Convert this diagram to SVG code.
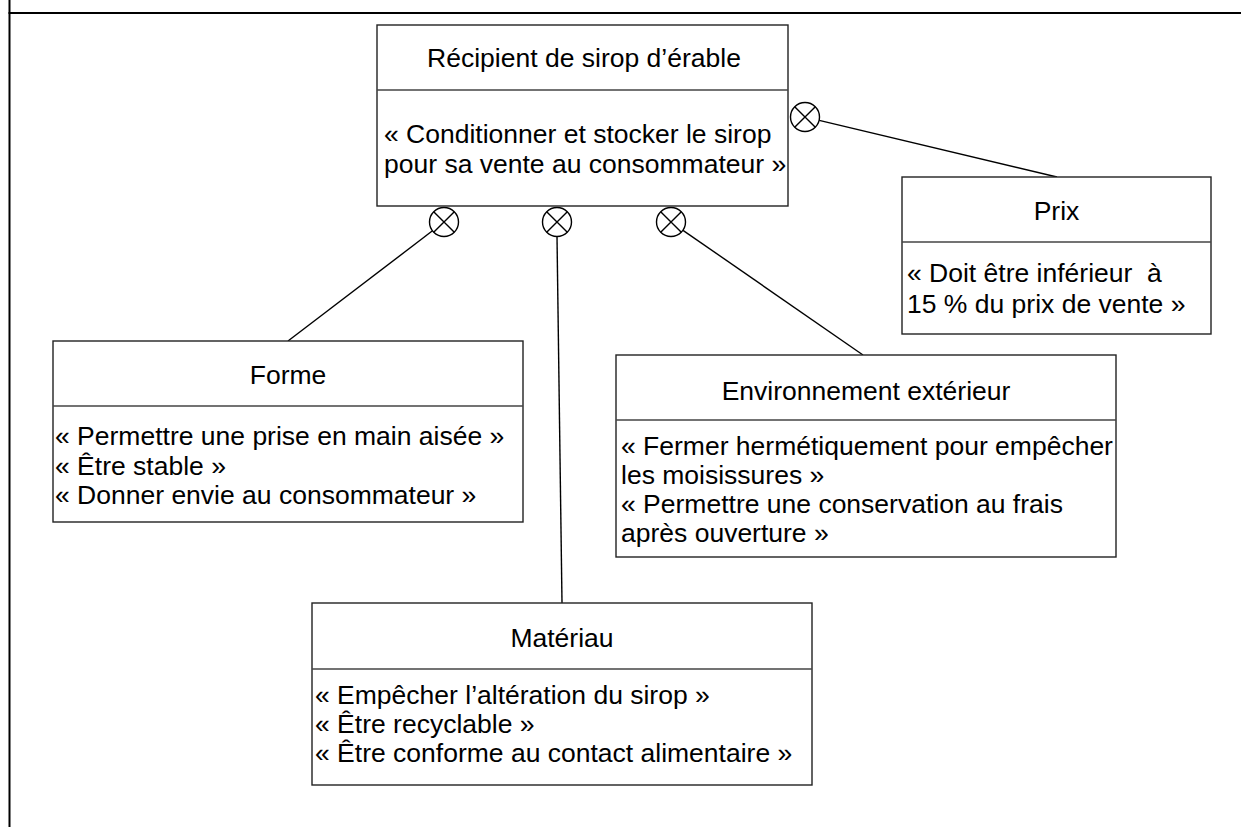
<svg xmlns="http://www.w3.org/2000/svg" width="1241" height="827" viewBox="0 0 1241 827">
<style>
.box{fill:#fff;stroke:#222;stroke-width:1.4}
.div{stroke:#444;stroke-width:1.4}
.t{font-family:"Liberation Sans",Arial,sans-serif;font-size:26.5px;fill:#000}
.c{text-anchor:middle}
.con{stroke:#000;stroke-width:1.4;fill:none}
.frame{stroke:#000;stroke-width:2;fill:none}
</style>
<rect width="1241" height="827" fill="#fff"/>
<g id="frame">
<line class="frame" x1="9.5" y1="0" x2="9.5" y2="827"/>
<line class="frame" x1="8.5" y1="13" x2="1241" y2="13"/>
</g>
<g id="connectors">
<circle class="con" cx="444" cy="222" r="14.5"/>
<path class="con" d="M433.7 211.7L454.3 232.3M454.3 211.7L433.7 232.3"/>
<line class="con" x1="432.5" y1="230.8" x2="288" y2="341"/>
<circle class="con" cx="557" cy="222" r="14.5"/>
<path class="con" d="M546.7 211.7L567.3 232.3M567.3 211.7L546.7 232.3"/>
<line class="con" x1="557" y1="236.5" x2="562" y2="603"/>
<circle class="con" cx="671" cy="222" r="14.5"/>
<path class="con" d="M660.7 211.7L681.3 232.3M681.3 211.7L660.7 232.3"/>
<line class="con" x1="683" y1="230.3" x2="863" y2="355"/>
<circle class="con" cx="805" cy="117" r="14.5"/>
<path class="con" d="M794.7 106.7L815.3 127.3M815.3 106.7L794.7 127.3"/>
<line class="con" x1="819.2" y1="120.4" x2="1057" y2="177"/>
</g>
<g id="recipient">
<rect class="box" x="377" y="25" width="411" height="181"/>
<line class="div" x1="377" y1="90" x2="788" y2="90"/>
<text class="t c" x="584" y="67">Récipient de sirop d’érable</text>
<text class="t" x="384" y="143">« Conditionner et stocker le sirop</text>
<text class="t" x="384" y="173">pour sa vente au consommateur »</text>
</g>
<g id="prix">
<rect class="box" x="902" y="177" width="309" height="157"/>
<line class="div" x1="902" y1="242" x2="1211" y2="242"/>
<text class="t c" x="1056.5" y="220">Prix</text>
<text class="t" x="907" y="282" xml:space="preserve">« Doit être inférieur  à</text>
<text class="t" x="907" y="313">15 % du prix de vente »</text>
</g>
<g id="forme">
<rect class="box" x="53" y="341" width="470" height="181"/>
<line class="div" x1="53" y1="406" x2="523" y2="406"/>
<text class="t c" x="288" y="384">Forme</text>
<text class="t" x="55" y="445">« Permettre une prise en main aisée »</text>
<text class="t" x="55" y="475">« Être stable »</text>
<text class="t" x="55" y="504">« Donner envie au consommateur »</text>
</g>
<g id="environnement">
<rect class="box" x="616" y="355" width="500" height="202"/>
<line class="div" x1="616" y1="420" x2="1116" y2="420"/>
<text class="t c" x="866" y="400">Environnement extérieur</text>
<text class="t" x="621" y="455">« Fermer hermétiquement pour empêcher</text>
<text class="t" x="621" y="484">les moisissures »</text>
<text class="t" x="621" y="513">« Permettre une conservation au frais</text>
<text class="t" x="621" y="542">après ouverture »</text>
</g>
<g id="materiau">
<rect class="box" x="312" y="603" width="500" height="182"/>
<line class="div" x1="312" y1="669" x2="812" y2="669"/>
<text class="t c" x="562" y="647">Matériau</text>
<text class="t" x="315" y="704">« Empêcher l’altération du sirop »</text>
<text class="t" x="315" y="733">« Être recyclable »</text>
<text class="t" x="315" y="762">« Être conforme au contact alimentaire »</text>
</g>
</svg>
